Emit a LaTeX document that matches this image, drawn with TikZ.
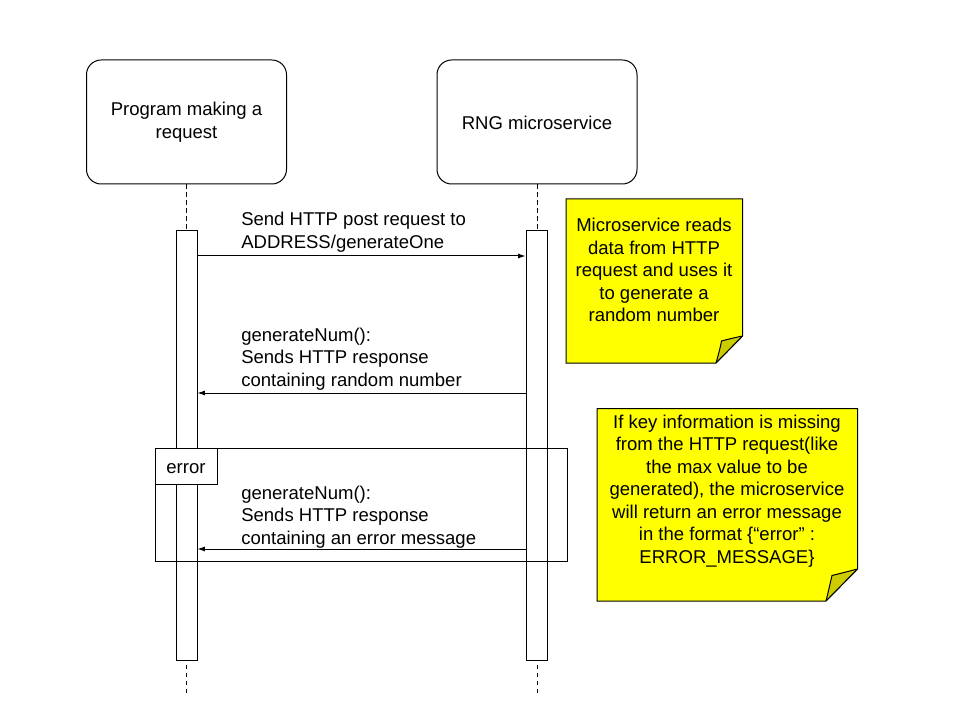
\documentclass[tikz,border=0pt]{standalone}
\usepackage{fontspec}
\setmainfont{Liberation Sans}
\usetikzlibrary{arrows.meta}
\definecolor{noteyellow}{RGB}{255,255,0}
\definecolor{folddark}{RGB}{204,204,0}
\begin{document}
\begin{tikzpicture}[x=0.75pt,y=-0.75pt,
  every node/.style={font=\fontsize{13.9}{16.9}\selectfont},
  lifebox/.style={draw,line width=0.75pt,rounded corners=11pt,minimum width=150pt,minimum height=93pt,align=center,inner sep=0pt},
  actbar/.style={draw,fill=white,line width=0.75pt,minimum width=15.75pt,minimum height=321.75pt,inner sep=0pt},
  lifeline/.style={line width=0.75pt,dash pattern=on 3.5pt off 2.5pt},
  msg/.style={line width=0.75pt,-{Latex[length=5.5pt,width=3.8pt]}},
  msglabel/.style={align=left,anchor=west,inner sep=0pt},
  notebody/.style={draw,line width=0.75pt,fill=noteyellow},
  notefold/.style={draw,line width=0.75pt,fill=folddark,line join=round},
  notetext/.style={align=center,inner sep=0pt},
  framebox/.style={draw,line width=0.75pt},
  fragtag/.style={draw,line width=0.75pt,fill=white,minimum width=46.5pt,minimum height=27pt,inner sep=0pt,anchor=north west}
]
\useasboundingbox[fill=white] (0,0) rectangle (960,720);

% lifeline heads
\node[lifebox] (prog) at (186.5,122) {Program making a\\request};
\node[lifebox] (rng) at (537,122) {};
\node (rnglabel) at (537,123) {RNG microservice};

% lifeline ends
\coordinate (progend) at (186.5,695);
\coordinate (rngend) at (537,695);
\draw[lifeline] (prog.south) -- (progend);
\draw[lifeline] (rng.south) -- (rngend);

% activation bars
\node[actbar] (barL) at (186.5,445.5) {};
\node[actbar] (barR) at (536.5,445.5) {};

% message 1
\coordinate (m1y) at (0,256);
\draw[msg] (barL.east |- m1y) -- (barR.west |- m1y);
\node[msglabel] (l1) at (241,232) {Send HTTP post request to\\ADDRESS/generateOne};

% message 2
\coordinate (m2y) at (0,393);
\draw[msg] (barR.west |- m2y) -- (barL.east |- m2y);
\node[msglabel] (l2) at (241,359) {generateNum():\\Sends HTTP response\\containing random number};

% error frame
\coordinate (fr1) at (155,448);
\coordinate (fr2) at (567,561);
\draw[framebox] (fr1) rectangle (fr2);
\node[fragtag] (tag) at (fr1) {};
\node (tagtext) at (186,468.5) {error};

% message 3
\coordinate (m3y) at (0,549);
\draw[msg] (barR.west |- m3y) -- (barL.east |- m3y);
\node[msglabel] (l3) at (241,517) {generateNum():\\Sends HTTP response\\containing an error message};

% note 1
\draw[notebody] (566,199) -- (742.5,199) -- (742.5,336) -- (716,363) -- (566,363) -- cycle;
\draw[notefold] (716,363) -- (742.5,336) .. controls (733,338) and (727,339.5) .. (721.5,341) .. controls (720,349) and (718,356) .. cycle;
\node[notetext] (n1) at (654,270) {Microservice reads\\data from HTTP\\request and uses it\\to generate a\\random number};

% note 2
\draw[notebody] (597,408.5) -- (857.5,408.5) -- (857.5,569) -- (826,601) -- (597,601) -- cycle;
\draw[notefold] (826,601) -- (857.5,569) .. controls (848,571.5) and (840,573.5) .. (832,575.5) .. controls (830,584) and (828,593) .. cycle;
\node[notetext] (n2) at (727,491) {If key information is missing\\from the HTTP request(like\\the max value to be\\generated), the microservice\\will return an error message\\in the format \{“error” :\\ERROR\_MESSAGE\}};
\end{tikzpicture}
\end{document}
